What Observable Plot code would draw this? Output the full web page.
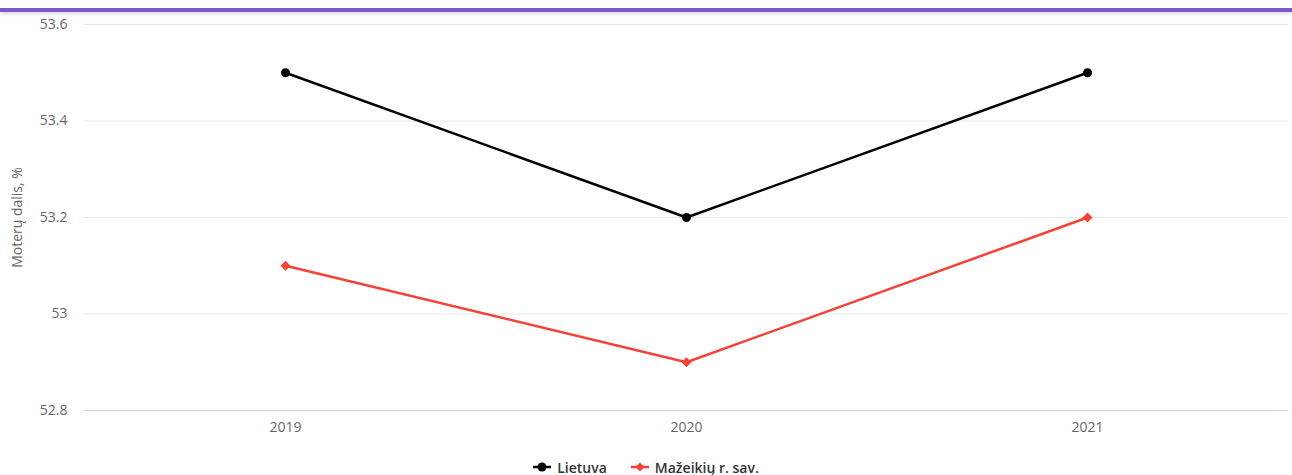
<!DOCTYPE html>
<html>
<head>
<meta charset="utf-8">
<script src="https://cdn.jsdelivr.net/npm/d3@7"></script>
<script src="https://cdn.jsdelivr.net/npm/@observablehq/plot@0.6"></script>
<style>
  html, body { margin: 0; padding: 0; background: #fff; }
  body { width: 1292px; height: 475px; position: relative; overflow: hidden; font-family: "Open Sans", "DejaVu Sans", sans-serif; }
  #bar { position: absolute; left: 0; top: 8px; width: 1292px; height: 4px; background: #7f56c4; box-shadow: 0 2px 3px rgba(120,100,160,0.25); }
  #chart { position: absolute; left: 0; top: 0; }
  #legend { position: absolute; left: 0; top: 458px; width: 1292px; height: 18px; display: flex; justify-content: center; align-items: center; gap: 24px; font-size: 14px; font-weight: 600; color: #333; }
  #legend .item { display: flex; align-items: center; gap: 6px; }
</style>
</head>
<body>
<div id="chart"></div>
<div id="bar"></div>
<div id="legend"></div>
<script>
const years = ["2019", "2020", "2021"];
const seriesNames = ["Lietuva", "Mažeikių r. sav."];
const lietuva = [53.5, 53.2, 53.5];
const mazeikiai = [53.1, 52.9, 53.2];
const yTicks = [52.8, 53, 53.2, 53.4, 53.6];
const colors = ["#000000", "#f44336"];

const data = [];
years.forEach((y, i) => {
  data.push({year: y, value: lietuva[i], series: seriesNames[0]});
  data.push({year: y, value: mazeikiai[i], series: seriesNames[1]});
});

const chart = Plot.plot({
  width: 1292,
  height: 450,
  marginTop: 24,
  marginBottom: 40,
  marginLeft: 84,
  marginRight: 4,
  style: {fontFamily: "'Open Sans', 'DejaVu Sans', sans-serif", fontSize: "14px", color: "#666", background: "transparent"},
  x: {type: "point", domain: years, padding: 0.5, label: null},
  y: {domain: [52.8, 53.6], ticks: yTicks, label: null},
  color: {domain: seriesNames, range: colors},
  marks: [
    Plot.gridY(yTicks.filter(t => t !== 52.8), {stroke: "#e6e6e6", strokeOpacity: 1, strokeWidth: 1}),
    Plot.ruleY([52.8], {stroke: "#ccd6eb", strokeWidth: 1}),
    Plot.axisY({ticks: yTicks, tickSize: 0, tickPadding: 17, tickFormat: d => String(+d.toFixed(1)), fill: "#666", fontSize: 14,
      label: "Moterų dalis, %", labelAnchor: "center", labelArrow: "none", labelOffset: 72}),
    Plot.axisX({tickSize: 0, tickPadding: 12, fill: "#666", fontSize: 14, label: null}),
    Plot.line(data, {x: "year", y: "value", stroke: "series", strokeWidth: 2.5}),
    Plot.dot(data.filter(d => d.series === seriesNames[0]), {x: "year", y: "value", fill: "series", r: 4.5, symbol: "circle"}),
    Plot.dot(data.filter(d => d.series === seriesNames[1]), {x: "year", y: "value", fill: "series", r: 4.5, symbol: "diamond2"})
  ]
});
document.getElementById("chart").appendChild(chart);

const legend = document.getElementById("legend");
const symbols = ["circle", "diamond"];
seriesNames.forEach((name, i) => {
  const item = document.createElement("div");
  item.className = "item";
  const shape = symbols[i] === "circle"
    ? `<circle cx="9" cy="7" r="4.5" fill="${colors[i]}"/>`
    : `<path d="M9 2.5 L13.5 7 L9 11.5 L4.5 7 Z" fill="${colors[i]}"/>`;
  item.innerHTML = `<svg width="18" height="14"><line x1="0" x2="18" y1="7" y2="7" stroke="${colors[i]}" stroke-width="2.5"/>${shape}</svg><span>${name}</span>`;
  legend.appendChild(item);
});
</script>
</body>
</html>
